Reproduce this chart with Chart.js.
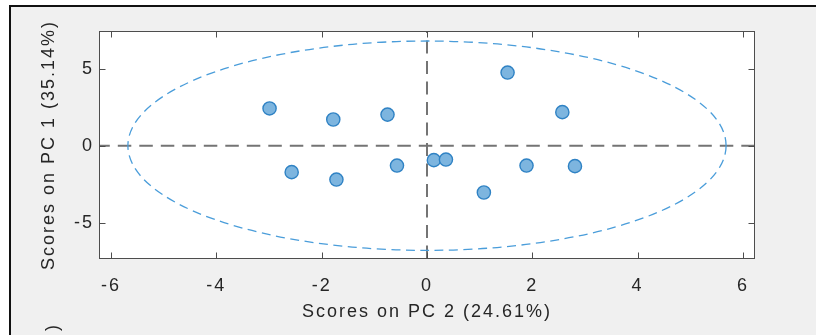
<!DOCTYPE html>
<html>
<head>
<meta charset="utf-8">
<script src="https://cdn.jsdelivr.net/npm/chart.js@4.4.1/dist/chart.umd.min.js"></script>
<style>
  html, body { margin: 0; padding: 0; background: #ffffff; overflow: hidden; }
  #wrap { width: 816px; height: 335px; position: relative; }
</style>
</head>
<body>
<div id="wrap"><canvas id="scores" width="816" height="335"></canvas></div>
<script>
// PCA score plot: samples on PC 2 (horizontal) vs PC 1 (vertical)
const pc2Scores = [-2.99, -1.78, -0.75, -2.57, -1.72, -0.57, 0.13, 0.36, 1.08, 1.53, 1.89, 2.57, 2.81];
const pc1Scores = [ 2.42,  1.70,  2.02, -1.72, -2.20, -1.29, -0.94, -0.90, -3.04, 4.75, -1.29, 2.18, -1.33];

const xTickValues = [-6, -4, -2, 0, 2, 4, 6];
const yTickValues = [-5, 0, 5];

const xAxisLabel = 'Scores on PC 2 (24.61%)';
const yAxisLabel = 'Scores on PC 1 (35.14%)';

// confidence ellipse semi-axes, in score units
const ellipseSemiAxisPC2 = 5.68;
const ellipseSemiAxisPC1 = 6.8;

const FONT_FAMILY = '"Liberation Sans", Arial, Helvetica, sans-serif';
const TEXT_COLOR = '#262626';
const AXIS_COLOR = '#4d4d4d';

const figurePlugin = {
  id: 'figurePlugin',
  beforeDraw(chart) {
    const ctx = chart.ctx;
    const W = chart.width, H = chart.height;
    ctx.save();
    ctx.fillStyle = '#ffffff';
    ctx.fillRect(0, 0, W, H);
    ctx.fillStyle = '#f0f0f0';
    ctx.fillRect(10, 6, W - 10, H - 6);
    // figure frame (top and left edges)
    ctx.fillStyle = '#111111';
    ctx.fillRect(9, 5, W - 9, 2);
    ctx.fillRect(9, 5, 2, H - 5);
    // axes background
    const a = chart.chartArea;
    ctx.fillStyle = '#ffffff';
    ctx.fillRect(a.left, a.top, a.right - a.left, a.bottom - a.top);
    // fragment of the next panel's axis label
    ctx.fillStyle = TEXT_COLOR;
    ctx.font = '18px ' + FONT_FAMILY;
    ctx.translate(53, 325);
    ctx.rotate(-Math.PI / 2);
    ctx.textAlign = 'right';
    ctx.textBaseline = 'middle';
    ctx.fillText(')', 0, 0);
    ctx.restore();
    // wider glyph spacing for all axis text
    ctx.letterSpacing = '2px';
  },
  beforeDatasetsDraw(chart) {
    const ctx = chart.ctx;
    const a = chart.chartArea;
    const xs = chart.scales.x, ys = chart.scales.y;
    const x0 = xs.getPixelForValue(0);
    const y0 = ys.getPixelForValue(0);
    ctx.save();
    ctx.beginPath();
    ctx.rect(a.left, a.top, a.right - a.left, a.bottom - a.top);
    ctx.clip();
    // zero reference lines
    ctx.strokeStyle = '#747474';
    ctx.lineWidth = 2;
    ctx.setLineDash([13.5, 8]);
    ctx.lineDashOffset = 3.7;
    ctx.beginPath();
    ctx.moveTo(a.left, y0);
    ctx.lineTo(a.right, y0);
    ctx.stroke();
    ctx.setLineDash([13, 7.5]);
    ctx.lineDashOffset = 11;
    ctx.beginPath();
    ctx.moveTo(x0, a.top);
    ctx.lineTo(x0, a.bottom);
    ctx.stroke();
    // confidence ellipse
    const rx = xs.getPixelForValue(ellipseSemiAxisPC2) - x0;
    const ry = y0 - ys.getPixelForValue(ellipseSemiAxisPC1);
    ctx.strokeStyle = '#4a9dda';
    ctx.lineWidth = 1.3;
    ctx.setLineDash([9, 5.5]);
    ctx.lineDashOffset = 0;
    ctx.beginPath();
    ctx.ellipse(x0, y0, rx, ry, 0, 0, Math.PI * 2);
    ctx.stroke();
    ctx.restore();
  },
  afterDatasetsDraw(chart) {
    const ctx = chart.ctx;
    const a = chart.chartArea;
    const xs = chart.scales.x, ys = chart.scales.y;
    const tick = 6;
    ctx.save();
    ctx.strokeStyle = AXIS_COLOR;
    ctx.lineWidth = 1;
    ctx.setLineDash([]);
    const L = Math.round(a.left) - 0.5, R = Math.round(a.right) + 0.5;
    const T = Math.round(a.top) + 0.5, B = Math.round(a.bottom) - 0.5;
    ctx.strokeRect(L, T, R - L, B - T);
    ctx.beginPath();
    xTickValues.forEach(v => {
      const px = Math.round(xs.getPixelForValue(v)) + 0.5;
      ctx.moveTo(px, B); ctx.lineTo(px, B - tick);
      ctx.moveTo(px, T); ctx.lineTo(px, T + tick);
    });
    yTickValues.forEach(v => {
      const py = Math.round(ys.getPixelForValue(v)) + 0.5;
      ctx.moveTo(L, py); ctx.lineTo(L + tick, py);
      ctx.moveTo(R, py); ctx.lineTo(R - tick, py);
    });
    ctx.stroke();
    ctx.restore();
  }
};

const axisFont = { family: FONT_FAMILY, size: 18 };

new Chart(document.getElementById('scores'), {
  type: 'scatter',
  data: {
    datasets: [{
      data: pc2Scores.map((x, i) => ({ x: x, y: pc1Scores[i] })),
      backgroundColor: '#7db5df',
      borderColor: '#2f82c4',
      borderWidth: 1.4,
      pointRadius: 6.6,
      pointHoverRadius: 6.6
    }]
  },
  options: {
    responsive: false,
    animation: false,
    devicePixelRatio: 1,
    events: [],
    layout: { padding: { left: 0, right: 62, top: 31, bottom: 0 } },
    plugins: { legend: { display: false }, tooltip: { enabled: false } },
    scales: {
      x: {
        type: 'linear',
        position: 'bottom',
        min: -6.21,
        max: 6.21,
        afterBuildTicks: s => { s.ticks = xTickValues.map(v => ({ value: v })); },
        afterFit: s => { s.height = 76; },
        grid: { display: false, drawTicks: false },
        border: { display: false },
        ticks: {
          color: TEXT_COLOR, font: axisFont, padding: 16,
          maxRotation: 0, autoSkip: false,
          callback: v => String(v)
        },
        title: {
          display: true, text: xAxisLabel, color: TEXT_COLOR, font: axisFont,
          padding: { top: 0, bottom: 12 }
        }
      },
      y: {
        type: 'linear',
        position: 'left',
        min: -7.36,
        max: 7.45,
        afterBuildTicks: s => { s.ticks = yTickValues.map(v => ({ value: v })); },
        afterFit: s => { s.width = 100; },
        grid: { display: false, drawTicks: false },
        border: { display: false },
        ticks: {
          color: TEXT_COLOR, font: axisFont, padding: 6,
          autoSkip: false,
          callback: v => String(v)
        },
        title: {
          display: true, text: yAxisLabel, color: TEXT_COLOR, font: axisFont,
          padding: { top: 38, bottom: 0 }
        }
      }
    }
  },
  plugins: [figurePlugin]
});
</script>
</body>
</html>
